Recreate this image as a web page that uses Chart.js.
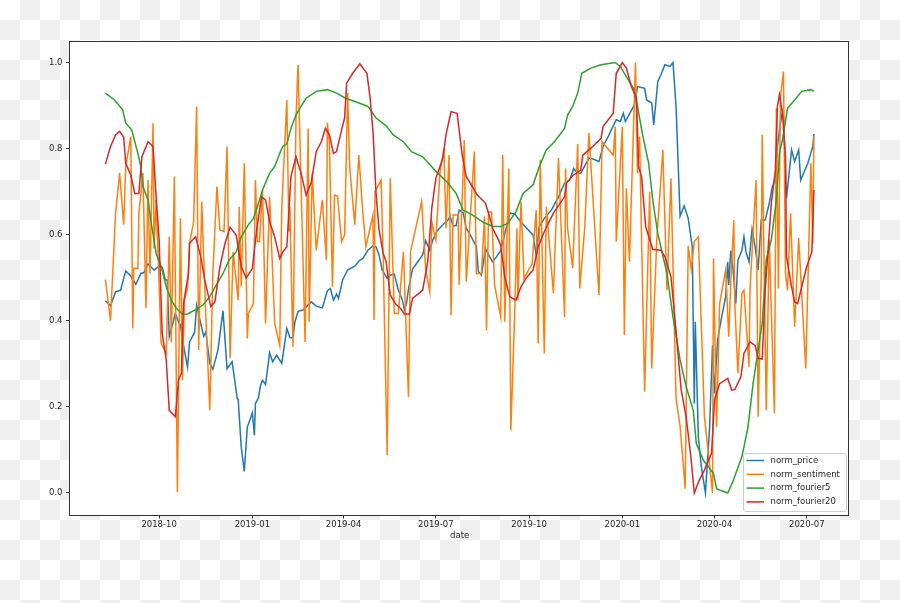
<!DOCTYPE html>
<html>
<head>
<meta charset="utf-8">
<title>norm price / sentiment / fourier</title>
<script src="https://cdn.jsdelivr.net/npm/chart.js@4.4.1/dist/chart.umd.min.js"></script>
<style>
    html, body { margin: 0; padding: 0; }
    body {
        width: 900px;
        height: 603px;
        overflow: hidden;
        /* transparent-figure checkerboard */
        background: repeating-conic-gradient(#efefef 0 25%, #ffffff 0 50%) 0 0 / 40px 40px;
    }
    #grafico { position: absolute; left: 0; top: 0; }
</style>
</head>
<body>
<canvas id="grafico" width="900" height="603"></canvas>
<script>
// Eixo X: rótulos dos ticks (início de cada trimestre)
const tickLabels = ['2018-10', '2019-01', '2019-04', '2019-07', '2019-10', '2020-01', '2020-04', '2020-07'];
const yTicks = [0.0, 0.2, 0.4, 0.6, 0.8, 1.0];
const xTitle = 'date';

// norm_price
const priceDates = ['2018-08-09','2018-08-14','2018-08-19','2018-08-24','2018-08-29','2018-09-03','2018-09-08','2018-09-13','2018-09-16','2018-09-20',
    '2018-09-26','2018-10-01','2018-10-04','2018-10-07','2018-10-09','2018-10-11','2018-10-17','2018-10-20','2018-10-22','2018-10-25',
    '2018-10-29','2018-10-31','2018-11-05','2018-11-07','2018-11-11','2018-11-14','2018-11-16','2018-11-20','2018-11-23','2018-11-28',
    '2018-12-03','2018-12-07','2018-12-12','2018-12-17','2018-12-18','2018-12-21','2018-12-24','2018-12-27','2019-01-01','2019-01-03',
    '2019-01-04','2019-01-07','2019-01-09','2019-01-11','2019-01-14','2019-01-18','2019-01-21','2019-01-25','2019-01-30','2019-02-04',
    '2019-02-07','2019-02-10','2019-02-12','2019-02-15','2019-02-16','2019-02-20','2019-02-25','2019-02-28','2019-03-05','2019-03-11',
    '2019-03-16','2019-03-19','2019-03-22','2019-03-25','2019-03-27','2019-03-31','2019-04-05','2019-04-12','2019-04-17','2019-04-20',
    '2019-04-25','2019-04-30','2019-05-03','2019-05-06','2019-05-09','2019-05-14','2019-05-17','2019-05-21','2019-05-25','2019-05-29',
    '2019-05-31','2019-06-02','2019-06-04','2019-06-08','2019-06-12','2019-06-18','2019-06-21','2019-06-25','2019-06-28','2019-07-03',
    '2019-07-08','2019-07-13','2019-07-15','2019-07-18','2019-07-21','2019-07-24','2019-07-28','2019-07-31','2019-08-05','2019-08-10',
    '2019-08-12','2019-08-15','2019-08-19','2019-08-22','2019-08-26','2019-08-30','2019-09-03','2019-09-12','2019-09-17','2019-09-20',
    '2019-09-27','2019-10-05','2019-10-08','2019-10-11','2019-10-16','2019-10-23','2019-10-30','2019-11-05','2019-11-10','2019-11-14',
    '2019-11-18','2019-11-21','2019-11-29','2019-12-03','2019-12-09','2019-12-13','2019-12-18','2019-12-26','2019-12-30','2020-01-02',
    '2020-01-04','2020-01-13','2020-01-16','2020-01-23','2020-01-25','2020-01-30','2020-02-01','2020-02-05','2020-02-08','2020-02-12',
    '2020-02-17','2020-02-20','2020-02-23','2020-02-27','2020-03-02','2020-03-06','2020-03-10','2020-03-12','2020-03-13','2020-03-16',
    '2020-03-19','2020-03-23','2020-03-27','2020-03-30','2020-04-01','2020-04-04','2020-04-08','2020-04-12','2020-04-14','2020-04-15',
    '2020-04-17','2020-04-19','2020-04-22','2020-04-24','2020-04-28','2020-04-30','2020-05-02','2020-05-05','2020-05-08','2020-05-11',
    '2020-05-14','2020-05-17','2020-05-21','2020-05-25','2020-05-28','2020-05-31','2020-06-02','2020-06-05','2020-06-07','2020-06-08',
    '2020-06-11','2020-06-16','2020-06-19','2020-06-23','2020-06-25','2020-07-02','2020-07-07','2020-07-08'];
const priceValues = [0.446,0.435,0.467,0.471,0.516,0.504,0.485,0.510,0.512,0.532,
    0.518,0.527,0.525,0.496,0.494,0.363,0.417,0.398,0.390,0.343,
    0.292,0.351,0.373,0.436,0.394,0.364,0.374,0.301,0.287,0.332,
    0.423,0.289,0.305,0.220,0.217,0.107,0.050,0.153,0.186,0.134,
    0.208,0.221,0.250,0.262,0.252,0.326,0.305,0.320,0.301,0.382,
    0.361,0.360,0.398,0.421,0.423,0.425,0.437,0.444,0.434,0.430,
    0.470,0.475,0.448,0.462,0.452,0.495,0.518,0.527,0.541,0.545,
    0.564,0.574,0.572,0.553,0.518,0.499,0.506,0.509,0.471,0.448,
    0.425,0.440,0.473,0.520,0.533,0.553,0.586,0.564,0.588,0.611,
    0.623,0.634,0.643,0.621,0.621,0.657,0.651,0.615,0.595,0.572,
    0.514,0.506,0.568,0.553,0.537,0.549,0.563,0.650,0.648,0.638,
    0.619,0.599,0.553,0.619,0.638,0.657,0.688,0.720,0.727,0.754,
    0.743,0.743,0.778,0.776,0.770,0.805,0.828,0.867,0.863,0.882,
    0.863,0.902,0.944,0.940,0.913,0.906,0.855,0.956,0.971,0.995,
    0.991,1.000,0.898,0.643,0.667,0.638,0.572,0.208,0.398,0.130,
    0.060,0.000,0.146,0.343,0.231,0.355,0.409,0.456,0.537,0.483,
    0.563,0.526,0.440,0.541,0.564,0.595,0.560,0.537,0.613,0.572,
    0.518,0.634,0.634,0.673,0.712,0.727,0.805,0.859,0.886,0.874,
    0.685,0.797,0.770,0.797,0.727,0.766,0.805,0.834];

// norm_sentiment
const sentimentDates = ['2018-08-09','2018-08-14','2018-08-19','2018-08-23','2018-08-27','2018-08-29','2018-09-03','2018-09-05','2018-09-06','2018-09-10',
    '2018-09-11','2018-09-15','2018-09-18','2018-09-20','2018-09-22','2018-09-25','2018-09-26','2018-09-28','2018-10-03','2018-10-08',
    '2018-10-11','2018-10-13','2018-10-16','2018-10-19','2018-10-22','2018-10-24','2018-10-26','2018-10-29','2018-10-31','2018-11-04',
    '2018-11-07','2018-11-09','2018-11-12','2018-11-16','2018-11-20','2018-11-23','2018-11-27','2018-11-30','2018-12-04','2018-12-07',
    '2018-12-10','2018-12-13','2018-12-18','2018-12-19','2018-12-21','2018-12-24','2018-12-27','2018-12-28','2019-01-02','2019-01-04',
    '2019-01-06','2019-01-08','2019-01-11','2019-01-14','2019-01-18','2019-01-23','2019-01-28','2019-01-30','2019-02-04','2019-02-06',
    '2019-02-07','2019-02-10','2019-02-13','2019-02-15','2019-02-22','2019-02-25','2019-02-26','2019-03-01','2019-03-05','2019-03-11',
    '2019-03-15','2019-03-16','2019-03-18','2019-03-21','2019-03-23','2019-03-26','2019-03-30','2019-04-02','2019-04-05','2019-04-07',
    '2019-04-12','2019-04-16','2019-04-20','2019-04-23','2019-04-30','2019-05-01','2019-05-02','2019-05-08','2019-05-10','2019-05-14',
    '2019-05-17','2019-05-21','2019-05-25','2019-05-30','2019-06-04','2019-06-06','2019-06-17','2019-06-21','2019-06-25','2019-06-27',
    '2019-07-01','2019-07-05','2019-07-09','2019-07-11','2019-07-14','2019-07-16','2019-07-18','2019-07-23','2019-07-24','2019-07-29',
    '2019-07-31','2019-08-08','2019-08-10','2019-08-15','2019-08-18','2019-08-20','2019-08-22','2019-08-25','2019-08-28','2019-09-03',
    '2019-09-05','2019-09-07','2019-09-11','2019-09-13','2019-09-17','2019-09-19','2019-09-20','2019-09-23','2019-09-26','2019-10-04',
    '2019-10-08','2019-10-10','2019-10-12','2019-10-16','2019-10-18','2019-10-25','2019-10-30','2019-11-05','2019-11-06','2019-11-08',
    '2019-11-13','2019-11-18','2019-11-20','2019-11-25','2019-11-29','2019-12-09','2019-12-12','2019-12-23','2019-12-25','2019-12-26',
    '2020-01-01','2020-01-03','2020-01-05','2020-01-08','2020-01-14','2020-01-16','2020-01-18','2020-01-23','2020-01-28','2020-01-30',
    '2020-02-04','2020-02-10','2020-02-14','2020-02-18','2020-02-23','2020-02-27','2020-03-03','2020-03-06','2020-03-09','2020-03-12',
    '2020-03-16','2020-03-22','2020-03-30','2020-03-31','2020-04-03','2020-04-06','2020-04-12','2020-04-15','2020-04-17','2020-04-20',
    '2020-04-21','2020-04-24','2020-04-28','2020-04-30','2020-05-05','2020-05-06','2020-05-12','2020-05-14','2020-05-17','2020-05-18',
    '2020-05-22','2020-05-25','2020-05-30','2020-06-01','2020-06-03','2020-06-05','2020-06-08','2020-06-10','2020-06-12','2020-06-15',
    '2020-06-19','2020-06-23','2020-06-30','2020-07-05','2020-07-07','2020-07-08'];
const sentimentValues = [0.496,0.400,0.650,0.743,0.623,0.758,0.828,0.382,0.522,0.522,
    0.650,0.743,0.429,0.727,0.510,0.859,0.568,0.681,0.347,0.324,
    0.595,0.350,0.735,0.002,0.638,0.262,0.448,0.475,0.580,0.630,
    0.898,0.332,0.677,0.413,0.192,0.510,0.712,0.611,0.607,0.805,
    0.313,0.560,0.448,0.665,0.480,0.766,0.359,0.417,0.440,0.727,
    0.584,0.584,0.704,0.394,0.688,0.394,0.343,0.665,0.913,0.607,
    0.665,0.340,0.867,0.995,0.351,0.847,0.398,0.743,0.564,0.681,
    0.541,0.860,0.812,0.479,0.692,0.690,0.584,0.599,0.929,0.758,
    0.623,0.785,0.650,0.572,0.646,0.402,0.700,0.727,0.550,0.088,
    0.731,0.417,0.417,0.560,0.223,0.560,0.677,0.518,0.467,0.630,
    0.588,0.743,0.801,0.615,0.785,0.413,0.646,0.646,0.483,0.820,
    0.491,0.793,0.510,0.510,0.642,0.378,0.653,0.653,0.483,0.409,
    0.785,0.398,0.754,0.146,0.433,0.615,0.448,0.677,0.499,0.533,
    0.657,0.347,0.774,0.324,0.665,0.464,0.778,0.409,0.754,0.615,
    0.522,0.811,0.475,0.619,0.836,0.460,0.816,0.785,0.851,0.584,
    0.851,0.367,0.708,0.537,1.000,0.743,0.828,0.235,0.700,0.289,
    0.588,0.797,0.471,0.731,0.220,0.155,0.010,0.574,0.520,0.584,
    0.595,0.177,0.000,0.545,0.153,0.440,0.518,0.363,0.487,0.634,
    0.440,0.278,0.464,0.471,0.293,0.475,0.727,0.177,0.495,0.832,
    0.192,0.588,0.185,0.894,0.475,0.921,0.979,0.510,0.471,0.650,
    0.386,0.592,0.289,0.766,0.580,0.828];

// norm_fourier5
const fourier5Dates = ['2018-08-09','2018-08-18','2018-08-26','2018-08-29','2018-09-04','2018-09-10','2018-09-13','2018-09-15','2018-09-20','2018-09-23',
    '2018-09-28','2018-10-03','2018-10-08','2018-10-13','2018-10-18','2018-10-24','2018-10-29','2018-11-06','2018-11-13','2018-11-20',
    '2018-11-26','2018-12-03','2018-12-09','2018-12-16','2018-12-21','2018-12-28','2019-01-02','2019-01-06','2019-01-11','2019-01-18',
    '2019-01-23','2019-01-28','2019-01-31','2019-02-04','2019-02-08','2019-02-13','2019-02-18','2019-02-23','2019-03-05','2019-03-16',
    '2019-03-25','2019-04-03','2019-04-15','2019-04-25','2019-05-03','2019-05-13','2019-05-20','2019-05-30','2019-06-07','2019-06-18',
    '2019-06-27','2019-07-03','2019-07-13','2019-07-21','2019-07-28','2019-08-06','2019-08-16','2019-08-26','2019-09-03','2019-09-10',
    '2019-09-18','2019-09-25','2019-10-05','2019-10-11','2019-10-18','2019-10-26','2019-11-05','2019-11-08','2019-11-13','2019-11-18',
    '2019-11-22','2019-12-01','2019-12-11','2019-12-25','2019-12-30','2020-01-05','2020-01-12','2020-01-16','2020-01-21','2020-01-27',
    '2020-01-31','2020-02-05','2020-02-14','2020-02-20','2020-02-27','2020-03-04','2020-03-11','2020-03-14','2020-03-21','2020-03-31',
    '2020-04-03','2020-04-08','2020-04-14','2020-04-19','2020-04-28','2020-05-04','2020-05-09','2020-05-14','2020-05-18','2020-05-22',
    '2020-05-27','2020-06-01','2020-06-04','2020-06-07','2020-06-12','2020-06-19','2020-06-26','2020-07-05','2020-07-08'];
const fourier5Values = [0.929,0.913,0.890,0.859,0.843,0.789,0.758,0.712,0.681,0.630,
    0.557,0.526,0.479,0.448,0.429,0.415,0.416,0.426,0.436,0.456,
    0.481,0.510,0.541,0.560,0.595,0.623,0.638,0.665,0.704,0.743,
    0.758,0.789,0.805,0.811,0.847,0.878,0.898,0.917,0.933,0.937,
    0.929,0.917,0.907,0.898,0.871,0.853,0.832,0.816,0.793,0.781,
    0.758,0.743,0.720,0.696,0.657,0.646,0.630,0.619,0.619,0.626,
    0.653,0.696,0.716,0.758,0.797,0.816,0.847,0.878,0.898,0.929,
    0.975,0.987,0.995,1.000,0.991,0.967,0.940,0.898,0.832,0.766,
    0.681,0.603,0.510,0.409,0.309,0.247,0.192,0.115,0.076,0.045,
    0.010,0.005,0.000,0.026,0.084,0.153,0.254,0.332,0.394,0.541,
    0.588,0.681,0.789,0.820,0.894,0.913,0.933,0.937,0.933];

// norm_fourier20
const fourier20Dates = ['2018-08-09','2018-08-14','2018-08-19','2018-08-23','2018-08-27','2018-08-29','2018-09-03','2018-09-07','2018-09-11','2018-09-14',
    '2018-09-20','2018-09-25','2018-09-28','2018-10-01','2018-10-04','2018-10-08','2018-10-11','2018-10-17','2018-10-20','2018-10-23',
    '2018-10-25','2018-10-30','2018-10-31','2018-11-06','2018-11-11','2018-11-15','2018-11-21','2018-11-25','2018-11-30','2018-12-05',
    '2018-12-10','2018-12-16','2018-12-21','2018-12-26','2019-01-01','2019-01-05','2019-01-10','2019-01-14','2019-01-18','2019-01-23',
    '2019-01-28','2019-01-31','2019-02-04','2019-02-08','2019-02-13','2019-02-18','2019-02-23','2019-02-28','2019-03-05','2019-03-10',
    '2019-03-14','2019-03-18','2019-03-22','2019-03-25','2019-03-30','2019-04-02','2019-04-04','2019-04-10','2019-04-17','2019-04-24',
    '2019-04-27','2019-04-30','2019-05-03','2019-05-06','2019-05-10','2019-05-13','2019-05-17','2019-05-22','2019-05-27','2019-05-31',
    '2019-06-05','2019-06-08','2019-06-18','2019-06-23','2019-06-27','2019-07-01','2019-07-08','2019-07-11','2019-07-16','2019-07-22',
    '2019-07-24','2019-07-27','2019-07-31','2019-08-06','2019-08-11','2019-08-19','2019-08-22','2019-08-26','2019-08-31','2019-09-03',
    '2019-09-07','2019-09-12','2019-09-18','2019-09-23','2019-09-28','2019-10-05','2019-10-10','2019-10-16','2019-10-25','2019-11-05',
    '2019-11-07','2019-11-13','2019-11-21','2019-11-23','2019-12-01','2019-12-11','2019-12-13','2019-12-23','2019-12-26','2020-01-01',
    '2020-01-05','2020-01-10','2020-01-15','2020-01-17','2020-01-20','2020-01-24','2020-01-31','2020-02-08','2020-02-12','2020-02-18',
    '2020-02-23','2020-02-28','2020-03-04','2020-03-09','2020-03-12','2020-03-17','2020-03-22','2020-03-29','2020-04-01','2020-04-06',
    '2020-04-14','2020-04-18','2020-04-21','2020-04-27','2020-04-30','2020-05-06','2020-05-11','2020-05-14','2020-05-18','2020-05-21',
    '2020-05-27','2020-05-31','2020-06-02','2020-06-04','2020-06-07','2020-06-10','2020-06-11','2020-06-16','2020-06-19','2020-06-22',
    '2020-06-26','2020-07-01','2020-07-06','2020-07-08'];
const fourier20Values = [0.764,0.805,0.832,0.840,0.827,0.766,0.739,0.696,0.696,0.781,
    0.816,0.805,0.688,0.588,0.371,0.309,0.192,0.177,0.262,0.278,
    0.440,0.510,0.580,0.595,0.549,0.495,0.433,0.444,0.526,0.580,
    0.617,0.599,0.526,0.499,0.522,0.607,0.688,0.681,0.630,0.595,
    0.545,0.560,0.572,0.735,0.781,0.743,0.692,0.720,0.793,0.816,
    0.847,0.832,0.789,0.793,0.843,0.871,0.952,0.975,0.997,0.975,
    0.921,0.840,0.696,0.611,0.557,0.537,0.460,0.440,0.429,0.416,
    0.416,0.452,0.471,0.537,0.661,0.731,0.778,0.832,0.886,0.882,
    0.843,0.785,0.735,0.712,0.692,0.673,0.650,0.615,0.592,0.576,
    0.502,0.456,0.448,0.479,0.499,0.518,0.572,0.607,0.650,0.688,
    0.720,0.737,0.750,0.785,0.801,0.824,0.851,0.882,0.975,1.000,
    0.987,0.944,0.917,0.758,0.735,0.619,0.566,0.564,0.549,0.502,
    0.378,0.240,0.177,0.076,0.000,0.030,0.053,0.092,0.216,0.254,
    0.266,0.239,0.240,0.270,0.324,0.351,0.343,0.313,0.311,0.471,
    0.673,0.750,0.898,0.925,0.882,0.781,0.549,0.479,0.444,0.440,
    0.479,0.526,0.560,0.704];

// Cores padrão do matplotlib (tab10)
const cores = ['#1f77b4', '#ff7f0e', '#2ca02c', '#d62728'];

function montarPontos(datas, valores) {
    const n = Math.min(datas.length, valores.length);
    const pontos = [];
    for (let i = 0; i < n; i++) {
        pontos.push({ x: Date.parse(datas[i]), y: valores[i] });
    }
    return pontos;
}

// Limites do eixo X como o matplotlib: 5% de margem de cada lado
const primeiro = Date.parse(priceDates[0]);
const ultimo = Date.parse(priceDates[priceDates.length - 1]);
const margem = (ultimo - primeiro) * 0.05;

const FONTE = { family: '"DejaVu Sans", sans-serif', size: 8.5 };
const COR_TEXTO = '#262626';

// Fundo branco só dentro dos eixos + moldura
const molduraPlugin = {
    id: 'moldura',
    beforeDraw(chart) {
        const { ctx, chartArea } = chart;
        ctx.save();
        ctx.fillStyle = '#ffffff';
        ctx.fillRect(chartArea.left, chartArea.top, chartArea.right - chartArea.left, chartArea.bottom - chartArea.top);
        ctx.restore();
    },
    afterDraw(chart) {
        const { ctx, chartArea } = chart;
        ctx.save();
        ctx.strokeStyle = '#333333';
        ctx.lineWidth = 1;
        ctx.strokeRect(Math.round(chartArea.left) - 0.5, Math.round(chartArea.top) + 0.5,
            Math.round(chartArea.right - chartArea.left), Math.round(chartArea.bottom - chartArea.top));
        ctx.restore();
    }
};

// Legenda no canto inferior direito (estilo matplotlib)
const legendaPlugin = {
    id: 'legenda',
    afterDraw(chart) {
        const { ctx, chartArea } = chart;
        const w = 103, h = 58;
        const x = Math.round(chartArea.right - 3.5 - w);
        const y = Math.round(chartArea.bottom - 3.5 - h);
        ctx.save();
        ctx.fillStyle = 'rgba(255,255,255,0.8)';
        ctx.strokeStyle = '#cccccc';
        ctx.lineWidth = 1;
        ctx.beginPath();
        ctx.roundRect(x + 0.5, y + 0.5, w, h, 2.5);
        ctx.fill();
        ctx.stroke();
        ctx.font = '8.5px "DejaVu Sans", sans-serif';
        ctx.textBaseline = 'middle';
        chart.data.datasets.forEach((ds, i) => {
            const cy = y + 7.5 + i * 13.8;
            ctx.strokeStyle = ds.borderColor;
            ctx.lineWidth = 1.5;
            ctx.beginPath();
            ctx.moveTo(x + 3.5, cy);
            ctx.lineTo(x + 21, cy);
            ctx.stroke();
            ctx.fillStyle = COR_TEXTO;
            ctx.fillText(ds.label, x + 27.5, cy);
        });
        ctx.restore();
    }
};

const series = [
    { label: 'norm_price', datas: priceDates, valores: priceValues },
    { label: 'norm_sentiment', datas: sentimentDates, valores: sentimentValues },
    { label: 'norm_fourier5', datas: fourier5Dates, valores: fourier5Values },
    { label: 'norm_fourier20', datas: fourier20Dates, valores: fourier20Values }
];

const ctx = document.getElementById('grafico').getContext('2d');
new Chart(ctx, {
    type: 'line',
    data: {
        datasets: series.map((s, i) => ({
            label: s.label,
            data: montarPontos(s.datas, s.valores),
            borderColor: cores[i],
            backgroundColor: cores[i],
            borderWidth: 1.5,
            pointRadius: 0,
            tension: 0,
            fill: false,
            order: series.length - i // a primeira série fica por baixo
        }))
    },
    options: {
        responsive: false,
        animation: false,
        events: [],
        devicePixelRatio: 1,
        layout: { padding: { left: 0, top: 41, right: 50.7, bottom: 0 } },
        plugins: {
            legend: { display: false },
            tooltip: { enabled: false }
        },
        scales: {
            x: {
                type: 'linear',
                min: primeiro - margem,
                max: ultimo + margem,
                afterFit(scale) { scale.height = 88.5; },
                afterBuildTicks(scale) {
                    scale.ticks = tickLabels.map(l => ({ value: Date.parse(l + '-01') }));
                },
                ticks: {
                    autoSkip: false,
                    maxRotation: 0,
                    padding: 1,
                    color: COR_TEXTO,
                    font: FONTE,
                    callback: (v, i) => tickLabels[i]
                },
                grid: {
                    drawOnChartArea: false,
                    drawTicks: true,
                    tickLength: 4,
                    tickColor: '#333333'
                },
                border: { display: false },
                title: {
                    display: true,
                    text: xTitle,
                    color: COR_TEXTO,
                    font: FONTE,
                    padding: { top: 0, bottom: 62 }
                }
            },
            y: {
                type: 'linear',
                min: -0.05,
                max: 1.05,
                afterFit(scale) { scale.width = 70; },
                afterBuildTicks(scale) {
                    scale.ticks = yTicks.map(v => ({ value: v }));
                },
                ticks: {
                    padding: 3.5,
                    color: COR_TEXTO,
                    font: FONTE,
                    callback: v => v.toFixed(1)
                },
                grid: {
                    drawOnChartArea: false,
                    drawTicks: true,
                    tickLength: 4,
                    tickColor: '#333333'
                },
                border: { display: false }
            }
        }
    },
    plugins: [molduraPlugin, legendaPlugin]
});
</script>
</body>
</html>
